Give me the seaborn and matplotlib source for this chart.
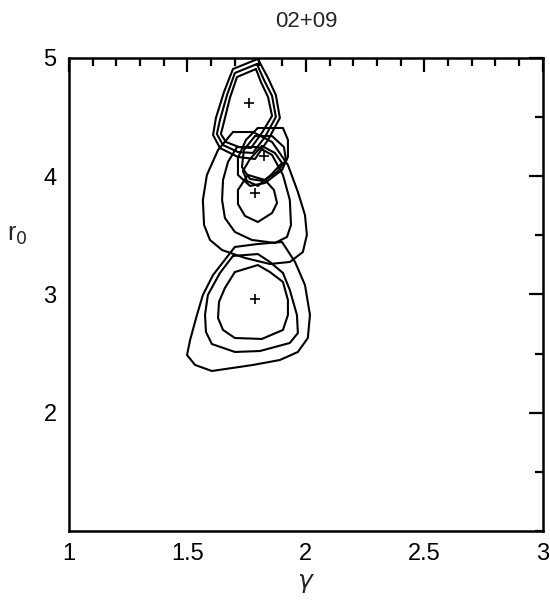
import numpy as np
import pandas as pd
import matplotlib
matplotlib.use('Agg')
import matplotlib.pyplot as plt
import seaborn as sns
from matplotlib.ticker import MultipleLocator

# Contornos (gamma, r0)
a1_g = [1.789, 1.709, 1.679, 1.654, 1.641, 1.662, 1.717, 1.768, 1.814, 1.857, 1.840, 1.810, 1.789]
a1_r = [4.907, 4.839, 4.662, 4.459, 4.357, 4.290, 4.247, 4.239, 4.366, 4.510, 4.670, 4.797, 4.907]
a2_g = [1.793, 1.700, 1.667, 1.637, 1.624, 1.650, 1.713, 1.776, 1.827, 1.873, 1.857, 1.823, 1.793]
a2_r = [4.949, 4.873, 4.687, 4.476, 4.357, 4.264, 4.205, 4.197, 4.332, 4.501, 4.679, 4.814, 4.949]
a3_g = [1.797, 1.692, 1.654, 1.620, 1.608, 1.637, 1.713, 1.785, 1.840, 1.890, 1.873, 1.840, 1.797]
a3_r = [4.992, 4.907, 4.712, 4.493, 4.349, 4.239, 4.163, 4.146, 4.308, 4.493, 4.687, 4.831, 4.992]

b1_g = [1.814, 1.869, 1.899, 1.852, 1.797, 1.751, 1.734, 1.764, 1.814]
b1_r = [4.256, 4.197, 4.112, 4.011, 3.918, 3.960, 4.045, 4.146, 4.256]
b2_g = [1.785, 1.857, 1.907, 1.916, 1.878, 1.819, 1.764, 1.730, 1.738, 1.785]
b2_r = [4.340, 4.340, 4.247, 4.137, 4.036, 3.960, 3.977, 4.078, 4.222, 4.340]
b3_g = [1.797, 1.903, 1.924, 1.924, 1.899, 1.827, 1.764, 1.713, 1.713, 1.747, 1.797]
b3_r = [4.408, 4.408, 4.308, 4.163, 4.053, 3.943, 3.918, 4.011, 4.154, 4.308, 4.408]

c1_g = [1.755, 1.827, 1.865, 1.878, 1.857, 1.797, 1.743, 1.713, 1.713, 1.755]
c1_r = [4.011, 3.968, 3.884, 3.774, 3.689, 3.613, 3.664, 3.765, 3.884, 4.011]
c2_g = [1.709, 1.797, 1.857, 1.903, 1.932, 1.937, 1.920, 1.869, 1.772, 1.700, 1.658, 1.646, 1.650, 1.671, 1.709]
c2_r = [4.247, 4.247, 4.180, 4.011, 3.799, 3.588, 3.486, 3.436, 3.461, 3.529, 3.647, 3.799, 3.968, 4.121, 4.247]
c3_g = [1.692, 1.776, 1.857, 1.924, 1.966, 1.996, 2.004, 1.987, 1.932, 1.848, 1.743, 1.646, 1.595,
        1.570, 1.565, 1.582, 1.629, 1.692]
c3_r = [4.374, 4.374, 4.290, 4.095, 3.867, 3.672, 3.503, 3.359, 3.275, 3.258, 3.309, 3.376, 3.461,
        3.588, 3.799, 4.011, 4.222, 4.374]

d1_g = [1.700, 1.797, 1.848, 1.903, 1.924, 1.924, 1.903, 1.814, 1.700, 1.650, 1.629, 1.633, 1.658, 1.700]
d1_r = [3.190, 3.249, 3.190, 3.106, 2.953, 2.827, 2.700, 2.624, 2.632, 2.700, 2.801, 2.937, 3.055, 3.190]
d2_g = [1.692, 1.797, 1.848, 1.903, 1.932, 1.962, 1.966, 1.932, 1.806, 1.700, 1.603, 1.578, 1.574,
        1.586, 1.637, 1.692]
d2_r = [3.326, 3.342, 3.275, 3.182, 3.038, 2.827, 2.674, 2.590, 2.522, 2.514, 2.581, 2.683, 2.827,
        2.996, 3.182, 3.326]
d3_g = [1.700, 1.797, 1.899, 1.954, 1.996, 2.017, 2.008, 1.966, 1.890, 1.776, 1.603, 1.532, 1.498,
        1.511, 1.540, 1.565, 1.608, 1.700]
d3_r = [3.402, 3.427, 3.444, 3.275, 3.080, 2.827, 2.632, 2.514, 2.446, 2.404, 2.353, 2.404, 2.488,
        2.615, 2.827, 2.996, 3.165, 3.402]

# Mejores ajustes
best_g = [1.759, 1.823, 1.785, 1.785]
best_r = [4.619, 4.171, 3.858, 2.962]

contornos = {
    'a1': (a1_g, a1_r), 'a2': (a2_g, a2_r), 'a3': (a3_g, a3_r),
    'b1': (b1_g, b1_r), 'b2': (b2_g, b2_r), 'b3': (b3_g, b3_r),
    'c1': (c1_g, c1_r), 'c2': (c2_g, c2_r), 'c3': (c3_g, c3_r),
    'd1': (d1_g, d1_r), 'd2': (d2_g, d2_r), 'd3': (d3_g, d3_r),
}
df = pd.concat([pd.DataFrame({'gamma': g, 'r0': r, 'contorno': k, 'orden': np.arange(len(g))})
                for k, (g, r) in contornos.items()], ignore_index=True)
df_best = pd.DataFrame({'gamma': best_g, 'r0': best_r})

sns.set_theme(style='white')
plt.rcParams['font.family'] = ['Liberation Sans', 'DejaVu Sans']

fig = plt.figure(figsize=(5.5, 6.01), dpi=100)
ax = fig.add_axes([0.1255, 0.1165, 0.8615, 0.787])

sns.lineplot(data=df, x='gamma', y='r0', units='contorno', estimator=None, sort=False,
             color='black', linewidth=1.5, ax=ax)
sns.scatterplot(data=df_best, x='gamma', y='r0', marker='+', color='black', s=50,
                linewidth=1.2, ax=ax)

ax.set_xlim(1, 3)
ax.set_ylim(1, 5)
ax.xaxis.set_major_locator(MultipleLocator(0.5))
ax.xaxis.set_minor_locator(MultipleLocator(0.1))
ax.yaxis.set_major_locator(MultipleLocator(1))
ax.yaxis.set_minor_locator(MultipleLocator(0.5))
ax.tick_params(which='both', direction='in', top=True, right=True, colors='black',
               labelsize=17, width=1.6, pad=9)
ax.tick_params(which='major', length=10)
ax.tick_params(which='minor', length=6)
ax.set_xticks([1, 1.5, 2, 2.5, 3])
ax.set_xticklabels(['1', '1.5', '2', '2.5', '3'])
ax.set_yticks([2, 3, 4, 5])
ax.set_yticklabels(['2', '3', '4', '5'])
for s in ax.spines.values():
    s.set_color('black')
    s.set_linewidth(1.8)

ax.set_xlabel(r'$\gamma$', fontsize=18, labelpad=4)
ax.set_ylabel(r'r$_0$', fontsize=18, rotation=0)
ax.yaxis.set_label_coords(-0.11, 0.60)
ax.set_title('02+09', fontsize=16, pad=22)

fig.savefig('out.png', dpi=100)
